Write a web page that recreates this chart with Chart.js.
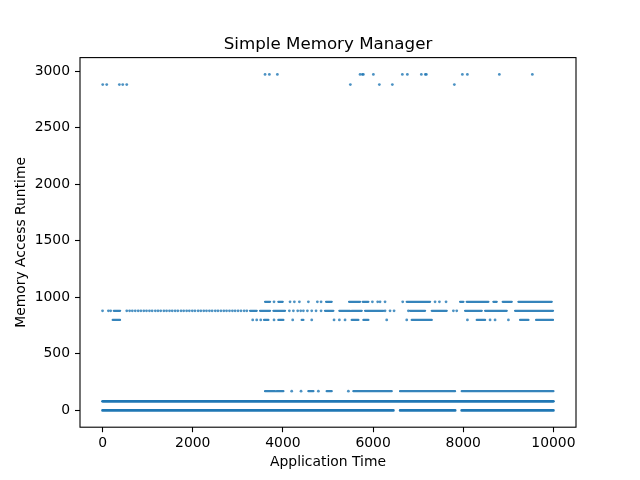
<!DOCTYPE html>
<html>
<head>
<meta charset="utf-8">
<script src="https://cdn.jsdelivr.net/npm/chart.js@4.4.1/dist/chart.umd.min.js"></script>
<style>
  html, body { margin: 0; padding: 0; background: #fff; }
  #wrap { width: 640px; height: 480px; }
</style>
</head>
<body>
<div id="wrap"><canvas id="chart" width="640" height="480"></canvas></div>
<script>
// Values (x = application time, y = runtime level).
// Dense stretches are kept as [start, end] runs, lone points as x lists.
const xTicks = [0, 2000, 4000, 6000, 8000, 10000]
const yTicks = [0, 500, 1000, 1500, 2000, 2500, 3000]

const runs0 = [[0, 6450], [6600, 7820], [7965, 9999]]
const runs80 = [[0, 9999]]

const runs170 = [[3604, 3825], [3862, 4010], [4565, 4676], [4971, 5082], [5563, 6413], [6598, 7818], [7966, 9999]]
const dots170 = [4195, 4402, 4787, 5452]

const runs800 = [[226, 388], [3582, 3678], [3899, 4010], [4417, 4454], [5526, 5674], [5785, 5895],
  [6857, 7301], [8299, 8484], [9260, 9445], [9615, 9990]]
const dots800 = [3330, 3419, 3508, 3803, 4217, 4639, 5134, 5252, 5378, 6302, 6746, 8092, 8594, 8705, 9001]

const runs880 = [[250, 390], [3271, 3419], [3493, 3715], [3789, 4047], [4934, 5119], [5252, 5489], [5526, 5748],
  [5822, 6228], [6820, 7153], [7301, 7633], [8040, 8410], [8484, 8964], [9149, 9990]]
const dots880 = [0, 130, 180, 537, 600, 660, 725, 790, 850, 915, 975, 1040, 1100, 1170, 1230, 1290, 1360,
  1420, 1485, 1545, 1610, 1670, 1740, 1800, 1865, 1925, 1990, 2050, 2120, 2180, 2245, 2305, 2370, 2430,
  2500, 2560, 2625, 2690, 2750, 2815, 2880, 2940, 3005, 3070, 3140, 3200,
  4143, 4232, 4328, 4395, 4454, 4543, 4639, 4735, 4846, 6265, 6376, 6465, 6783, 7781, 7855]

const runs960 = [[3604, 3715], [3899, 3996], [4957, 5082], [5467, 5711], [5770, 5895], [6746, 7264],
  [7929, 8003], [8077, 8557], [8668, 8742], [8875, 9075], [9223, 9962]]
const dots960 = [3803, 4158, 4254, 4365, 4565, 4764, 4846, 5984, 6102, 6154, 6265, 6657, 7374, 7471, 7618]

const dots2880 = [4, 93, 373, 448, 537, 5496, 6139, 6427, 7802]
const dots2970 = [3604, 3700, 3877, 5711, 5762, 5784, 6006, 6649, 6760, 7070, 7159, 7181, 7980, 8091, 8800, 9532]

const BLUE = "#1f77b4"
const FONT = "'DejaVu Sans', sans-serif"

// runs become line pieces split by empty points
function runLine(runs, level, width, color) {
  const pts = []
  runs.forEach(([a, b], i) => {
    if (i > 0) pts.push({ x: a, y: null })
    pts.push({ x: a, y: level }, { x: b, y: level })
  })
  return {
    data: pts, showLine: true, spanGaps: false, borderColor: color || BLUE, borderWidth: width || 2.8,
    borderCapStyle: "round", pointRadius: 0, pointHoverRadius: 0
  }
}

function dotSet(xs, level) {
  return {
    data: xs.map(x => ({ x, y: level })), showLine: false,
    pointRadius: 1.4, pointBorderWidth: 0, backgroundColor: "rgba(31,119,180,0.8)", borderColor: BLUE
  }
}

const MID = "rgba(31,119,180,0.9)"
const datasets = [
  runLine(runs0, 0), runLine(runs80, 80),
  runLine(runs170, 170, 2.3, MID), dotSet(dots170, 170),
  runLine(runs800, 800, 2.3, MID), dotSet(dots800, 800),
  runLine(runs880, 880, 2.3, MID), dotSet(dots880, 880),
  runLine(runs960, 960, 2.3, MID), dotSet(dots960, 960),
  dotSet(dots2880, 2880), dotSet(dots2970, 2970)
]

// axes box and title like the original figure
const frame = {
  id: "frame",
  afterDraw(chart) {
    const { ctx, chartArea: a } = chart
    ctx.save()
    ctx.strokeStyle = "#000"
    ctx.lineWidth = 1.1
    ctx.strokeRect(a.left, a.top, a.right - a.left, a.bottom - a.top)
    ctx.fillStyle = "#000"
    ctx.font = "16.7px " + FONT
    ctx.textAlign = "center"
    ctx.textBaseline = "alphabetic"
    ctx.fillText("Simple Memory Manager", (a.left + a.right) / 2, a.top - 8.3)
    ctx.restore()
  }
}

const tickStyle = { color: "#000", font: { family: FONT, size: 13.9 } }
const titleFont = { family: FONT, size: 13.9, lineHeight: 1.2 }

new Chart(document.getElementById("chart"), {
  type: "scatter",
  data: { datasets },
  options: {
    responsive: false,
    devicePixelRatio: 1,
    animation: false,
    layout: { padding: { left: 0, top: 57.6, right: 64, bottom: 0 } },
    plugins: { legend: { display: false }, tooltip: { enabled: false } },
    scales: {
      x: {
        type: "linear", min: -500, max: 10500,
        afterBuildTicks: s => { s.ticks = xTicks.map(v => ({ value: v })) },
        afterFit: s => { s.height = 52.8 },
        grid: { drawOnChartArea: false, drawTicks: true, tickLength: 5, tickColor: "#000", tickWidth: 1.1 },
        border: { display: false },
        ticks: { ...tickStyle, padding: 3, maxRotation: 0, callback: v => String(v) },
        title: { display: true, text: "Application Time", color: "#000", font: titleFont, padding: { top: 0, bottom: 9.5 } }
      },
      y: {
        type: "linear", min: -148.5, max: 3118.5,
        afterBuildTicks: s => { s.ticks = yTicks.map(v => ({ value: v })) },
        afterFit: s => { s.width = 80 },
        grid: { drawOnChartArea: false, drawTicks: true, tickLength: 5, tickColor: "#000", tickWidth: 1.1 },
        border: { display: false },
        ticks: { ...tickStyle, padding: 5, callback: v => String(v) },
        title: { display: true, text: "Memory Access Runtime", color: "#000", font: titleFont, padding: { top: 13.5, bottom: 0 } }
      }
    }
  },
  plugins: [frame]
})
</script>
</body>
</html>
